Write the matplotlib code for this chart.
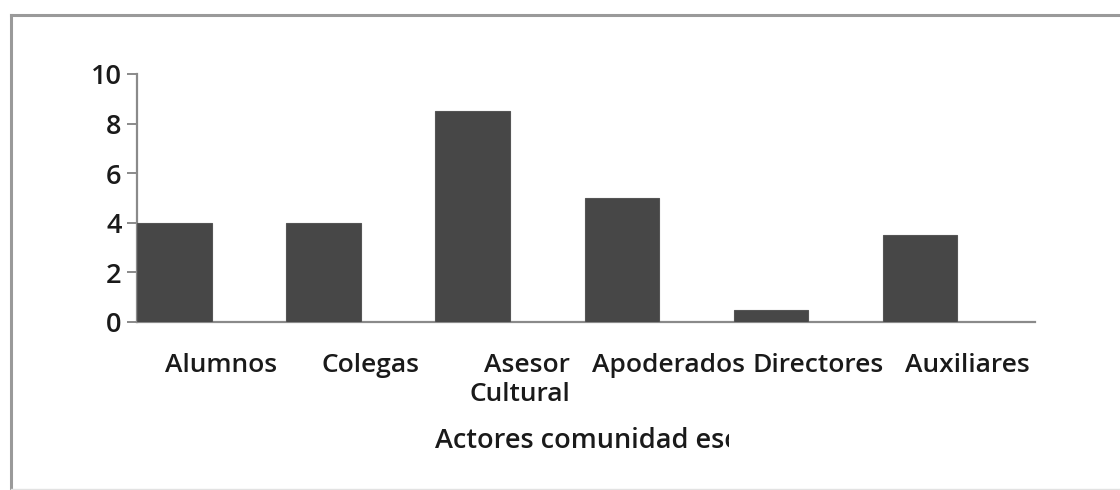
import matplotlib
matplotlib.use("Agg")
import matplotlib.pyplot as plt
from matplotlib.lines import Line2D
from matplotlib.transforms import ScaledTranslation, Bbox, TransformedBbox

categories = ["Alumnos", "Colegas", "Asesor\nCultural", "Apoderados", "Directores", "Auxiliares"]
values = [4, 4, 8.5, 5, 0.5, 3.5]
yticks = [0, 2, 4, 6, 8, 10]
xlabel = "Actores comunidad escolar"

plt.rcParams['font.family'] = ['Open Sans', 'DejaVu Sans']
plt.rcParams['font.weight'] = 'semibold'

W, H = 1120, 490
fig = plt.figure(figsize=(W / 100, H / 100), dpi=100)
ax = fig.add_axes([137 / W, (H - 322) / H, (1035 - 137) / W, 248 / H])

x = list(range(len(categories)))
ax.bar(x, values, width=0.5, color="#474747", edgecolor="#555555", linewidth=0.8, zorder=3)
ax.set_xlim(-0.25, 5.77)
ax.set_ylim(0, 10)
ax.set_yticks(yticks)

for s in ["top", "right"]:
    ax.spines[s].set_visible(False)
for s in ["left", "bottom"]:
    ax.spines[s].set_color("#8a8a8a")
    ax.spines[s].set_linewidth(1.6)

ax.tick_params(axis="y", length=7, width=1.4, color="#8a8a8a", pad=4,
               labelsize=19.5, labelcolor="#1a1a1a")
ax.tick_params(axis="x", length=0, pad=22, labelsize=19, labelcolor="#1a1a1a")
ax.set_xticks(x)
ax.set_xticklabels(categories, linespacing=1.25, fontweight='semibold')
ax.set_yticklabels([str(t) for t in yticks], fontweight='semibold')
offset = ScaledTranslation(47 / 100, 0, fig.dpi_scale_trans)
for i, lab in enumerate(ax.get_xticklabels()):
    lab.set_transform(lab.get_transform() + offset)
    if "\n" in lab.get_text():
        lab.set_multialignment("right")

# Axis title, clipped as in the reference
t = fig.text(435 / W, 1 - 448 / H, xlabel, ha="left", va="baseline", fontsize=19.5,
             fontweight='semibold', color="#1a1a1a")
t.set_clip_on(True)
t.set_clip_box(TransformedBbox(Bbox.from_extents(0, 0, 729 / W, 1), fig.transFigure))

# Outer frame (left and top visible, bottom faint)
top_y = 1 - 15 / H
left_x = 11 / W
fig.lines.append(Line2D([left_x, left_x], [1 - 489 / H, top_y], transform=fig.transFigure,
                        color="#9a9a9a", linewidth=2.2, solid_capstyle="projecting"))
fig.lines.append(Line2D([left_x, 1.0], [top_y, top_y], transform=fig.transFigure,
                        color="#9a9a9a", linewidth=2.2, solid_capstyle="projecting"))
fig.lines.append(Line2D([left_x, 1.0], [1 - 488.5 / H, 1 - 488.5 / H], transform=fig.transFigure,
                        color="#e2e2e2", linewidth=1.0))

fig.savefig("out.png", dpi=100)
